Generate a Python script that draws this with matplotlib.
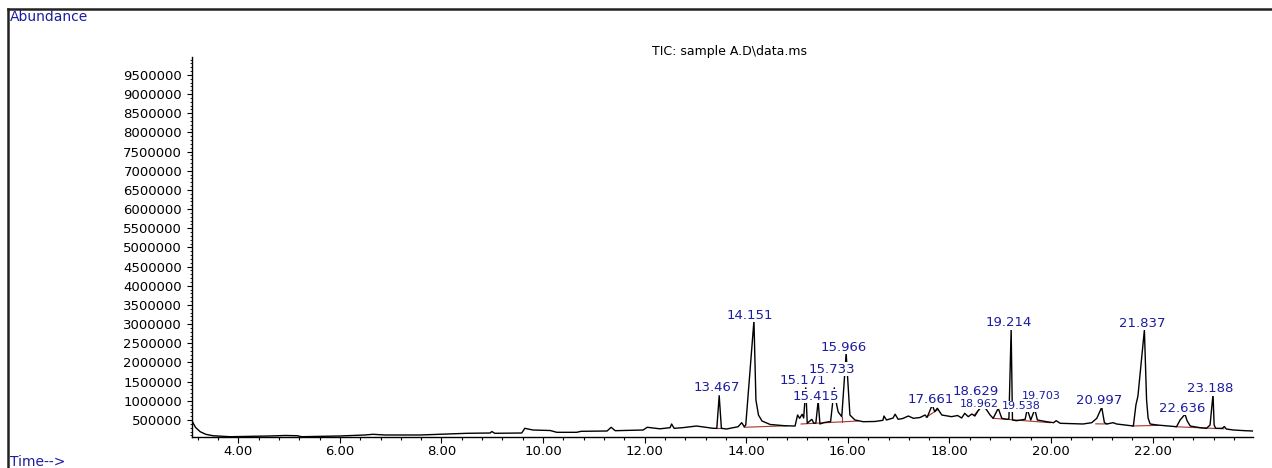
import numpy as np
import matplotlib
matplotlib.use("Agg")
import matplotlib.pyplot as plt
from matplotlib.ticker import MultipleLocator, FixedLocator
from matplotlib.lines import Line2D

# retention time (min) and abundance
time_min = [3.10, 3.16, 3.25, 3.36, 3.50, 3.84, 4.62, 4.92, 5.16, 5.25,
            6.00, 6.49, 6.65, 6.89, 7.58, 8.11, 8.50, 8.96, 8.99, 9.05,
            9.58, 9.64, 9.80, 10.14, 10.27, 10.66, 10.75, 11.26, 11.34, 11.42,
            11.97, 12.05, 12.30, 12.50, 12.53, 12.58, 12.75, 13.02, 13.35, 13.42,
            13.467, 13.51, 13.61, 13.84, 13.91, 13.96, 13.99, 14.151, 14.19, 14.24,
            14.31, 14.47, 14.76, 14.96, 15.01, 15.05, 15.10, 15.13, 15.171, 15.20,
            15.29, 15.33, 15.37, 15.415, 15.45, 15.52, 15.66, 15.733, 15.78, 15.81,
            15.88, 15.966, 16.04, 16.14, 16.30, 16.53, 16.69, 16.71, 16.76, 16.89,
            16.93, 16.99, 17.08, 17.19, 17.29, 17.42, 17.52, 17.56, 17.661, 17.71,
            17.76, 17.85, 18.04, 18.16, 18.24, 18.30, 18.37, 18.44, 18.50, 18.56,
            18.629, 18.72, 18.80, 18.86, 18.96, 19.03, 19.13, 19.17, 19.214, 19.24,
            19.32, 19.49, 19.53, 19.60, 19.68, 19.73, 19.91, 20.05, 20.10, 20.18,
            20.63, 20.80, 20.90, 20.997, 21.05, 21.10, 21.22, 21.29, 21.62, 21.67,
            21.71, 21.837, 21.88, 21.91, 21.95, 22.08, 22.47, 22.54, 22.636, 22.68,
            22.74, 22.93, 23.06, 23.13, 23.188, 23.21, 23.24, 23.37, 23.41, 23.45,
            23.59, 23.82, 23.98]
abundance = [448000, 304000, 195000, 127000, 90000, 64000, 83000, 96000, 90000, 64000,
             83000, 109000, 127000, 109000, 109000, 135000, 153000, 161000, 200000, 153000,
             161000, 283000, 239000, 226000, 179000, 179000, 205000, 213000, 310000, 221000,
             239000, 310000, 270000, 300000, 396000, 283000, 300000, 343000, 283000, 283000,
             1134000, 283000, 265000, 325000, 430000, 325000, 370000, 3090000, 1022000, 630000,
             474000, 383000, 350000, 343000, 630000, 544000, 649000, 552000, 1340000, 414000,
             518000, 414000, 422000, 1000000, 396000, 430000, 461000, 1340000, 891000, 709000,
             587000, 2240000, 630000, 500000, 456000, 461000, 492000, 604000, 500000, 552000,
             651000, 518000, 539000, 604000, 544000, 565000, 630000, 570000, 891000, 717000,
             805000, 630000, 587000, 617000, 552000, 674000, 587000, 657000, 604000, 735000,
             850000, 787000, 630000, 544000, 805000, 544000, 518000, 526000, 2866000, 500000,
             482000, 518000, 787000, 500000, 779000, 500000, 456000, 430000, 482000, 414000,
             396000, 430000, 544000, 831000, 430000, 396000, 430000, 396000, 343000, 891000,
             1126000, 2848000, 1022000, 552000, 396000, 370000, 325000, 500000, 649000, 474000,
             343000, 300000, 283000, 370000, 1170000, 370000, 283000, 283000, 330000, 265000,
             239000, 221000, 213000]

# integration baselines (dark red)
base_t0 = [13.40, 13.96, 15.08, 17.54, 18.48, 18.86, 20.88, 21.60, 22.45]
base_v0 = [283000, 310000, 396000, 570000, 620000, 544000, 400000, 343000, 325000]
base_t1 = [13.53, 14.80, 16.20, 17.78, 18.63, 19.98, 21.10, 22.10, 23.40]
base_v1 = [283000, 350000, 474000, 780000, 840000, 430000, 396000, 360000, 270000]
drop_t = [15.88]
drop_lo = [452000]
drop_hi = [587000]

# peak labels and where they sit
peak_labels = ["13.467", "14.151", "15.171", "15.415", "15.733", "15.966", "17.661",
               "18.629", "18.962", "19.214", "19.538", "19.703", "20.997", "21.837",
               "22.636", "23.188"]
label_t = [13.42, 14.07, 15.11, 15.37, 15.68, 15.92, 17.64,
           18.52, 18.58, 19.17, 19.41, 19.81, 20.94, 21.79,
           22.58, 23.13]
label_v = [1335000, 3239000, 1543000, 1126000, 1830000, 2404000, 1022000,
           1256000, 920000, 3043000, 860000, 1130000, 996000, 3030000,
           813000, 1309000]
label_small = ["18.962", "19.538", "19.703"]

y_ticks = list(range(500000, 10000000, 500000))
x_ticks = [4, 6, 8, 10, 12, 14, 16, 18, 20, 22]

W, H = 1272, 468
fig = plt.figure(figsize=(W / 100, H / 100), dpi=100)
ax = fig.add_axes([192 / W, 1 - 437 / H, (1253 - 192) / W, (437 - 57) / H])

blue = "#1c1ca0"
num_font = "DejaVu Sans"

ax.plot(time_min, abundance, color="black", lw=1.0, zorder=3)
for t0, v0, t1, v1 in zip(base_t0, base_v0, base_t1, base_v1):
    ax.plot([t0, t1], [v0, v1], color="#a83232", lw=0.8, zorder=2)
for t, lo, hi in zip(drop_t, drop_lo, drop_hi):
    ax.plot([t, t], [lo, hi], color="#a83232", lw=0.8, zorder=2)

for txt, t, v in zip(peak_labels, label_t, label_v):
    fs = 8 if txt in label_small else 9.5
    ax.text(t, v, txt, ha="center", va="center", color=blue, fontsize=fs,
            family=num_font, zorder=5,
            bbox=dict(boxstyle="square,pad=0.05", fc="white", ec="none"))

ax.set_xlim(3.089, 23.975)
ax.set_ylim(56600, 9969000)

ax.xaxis.set_major_locator(FixedLocator(x_ticks))
ax.set_xticklabels(["%.2f" % x for x in x_ticks], fontsize=9.5, family=num_font)
ax.xaxis.set_minor_locator(MultipleLocator(0.4))
ax.yaxis.set_major_locator(FixedLocator(y_ticks))
ax.set_yticklabels([str(v) for v in y_ticks], fontsize=9.5, family=num_font)
ax.yaxis.set_minor_locator(MultipleLocator(100000))

ax.tick_params(axis="x", which="major", length=4.3, width=0.8, pad=1.5)
ax.tick_params(axis="x", which="minor", length=2.4, width=0.8)
ax.tick_params(axis="y", which="major", length=3.6, width=0.8, pad=3.5)
ax.tick_params(axis="y", which="minor", length=1.6, width=0.6)

for side in ("top", "right"):
    ax.spines[side].set_visible(False)
for side in ("left", "bottom"):
    ax.spines[side].set_linewidth(1.0)

# frame lines of the report page
fig.add_artist(Line2D([8 / W, 1], [1 - 9 / H, 1 - 9 / H], color="#222222", lw=1.8))
fig.add_artist(Line2D([8 / W, 8 / W], [0, 1 - 9 / H], color="#222222", lw=1.8))

fig.text(10 / W, 1 - 17 / H, "Abundance", color=blue, fontsize=10,
         ha="left", va="center")
fig.text(10 / W, 1 - 462 / H, "Time-->", color=blue, fontsize=10,
         ha="left", va="center")
fig.text(730 / W, 1 - 52 / H, "TIC: sample A.D\\data.ms", color="black",
         fontsize=9, ha="center", va="center")

fig.savefig("out.png", dpi=100)
